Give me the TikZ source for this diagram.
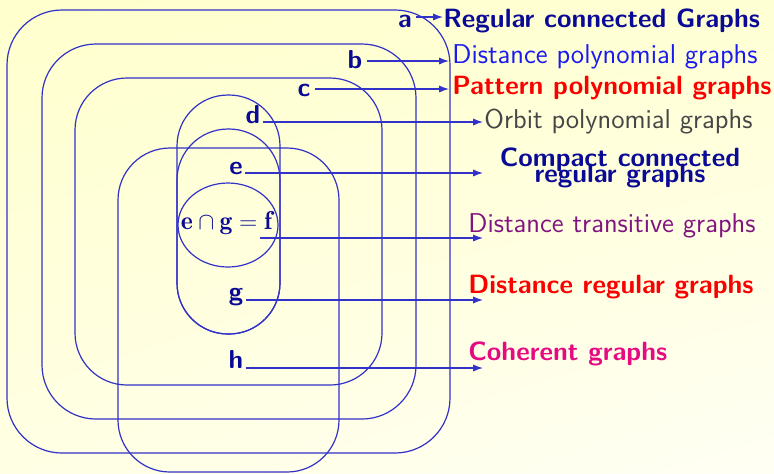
\documentclass[tikz,border=0pt]{standalone}
\usepackage{fontspec}
\usetikzlibrary{arrows.meta,shadings}
\definecolor{linec}{RGB}{50,50,200}
\definecolor{navyc}{RGB}{10,10,150}
\definecolor{bluec}{RGB}{25,25,240}
\definecolor{redc}{RGB}{250,0,0}
\definecolor{grayc}{RGB}{70,70,70}
\definecolor{purplec}{RGB}{130,20,130}
\definecolor{magc}{RGB}{230,10,130}
\definecolor{bgul}{RGB}{255,255,205}
\definecolor{bgur}{RGB}{255,255,212}
\definecolor{bgll}{RGB}{255,255,228}
\definecolor{bglr}{RGB}{255,255,244}
\tikzset{
  setbox/.style={draw=linec, line width=0.6pt},
  lab/.style={font=\sffamily\bfseries\fontsize{13}{15}\selectfont, text=navyc, inner sep=0pt, anchor=base},
  txt/.style={font=\sffamily\fontsize{13.6}{15}\selectfont, inner sep=0pt, anchor=base west},
  btxt/.style={font=\sffamily\bfseries\fontsize{13.2}{15}\selectfont, inner sep=0pt, anchor=base west},
  arr/.style={draw=linec, line width=0.6pt, -{Latex[length=5pt,width=3.6pt]}}
}
\begin{document}
\begin{tikzpicture}[x=0.5pt,y=-0.5pt]
\useasboundingbox (0,0) rectangle (774,473);
\shade[upper left=bgul, upper right=bgur, lower left=bgll, lower right=bglr] (0,0) rectangle (774,473);

% nested sets
\draw[setbox, rounded corners=27.5pt] (7,10) rectangle (450,453);
\draw[setbox, rounded corners=27pt] (42,44) rectangle (416,419);
\draw[setbox, rounded corners=26pt] (75,78) rectangle (382,385);
\draw[setbox, rounded corners=26pt] (118,148) rectangle (339,472);
\draw[setbox, rounded corners=25.5pt] (177,95) rectangle (280,334);
\draw[setbox, rounded corners=25.5pt] (177,129) rectangle (280,334);
\draw[setbox] (228,225) ellipse [x radius=50, y radius=42];

% labels
\node[lab] (la) at (405,27) {a};
\node[lab] (lb) at (355,68) {b};
\node[lab] (lc) at (304,96) {c};
\node[lab] (ld) at (253,123) {d};
\node[lab] (le) at (236,174) {e};
\node[lab, font=\fontsize{12.9}{15}\selectfont] (lf) at (226.5,229) {$\mathbf{e}\cap\mathbf{g}=\mathbf{f}$};
\node[lab] (lg) at (236,300) {g};
\node[lab] (lh) at (236,368) {h};

% class names
\node[btxt, text=navyc] (ta) at (443,27) {Regular connected Graphs};
\node[txt, text=bluec] (tb) at (452,63) {Distance polynomial graphs};
\node[btxt, text=redc] (tc) at (452,94) {Pattern polynomial graphs};
\node[txt, text=grayc] (td) at (484,128) {Orbit polynomial graphs};
\node[font={\sffamily\bfseries\fontsize{13.2}{8}\selectfont\lineskiplimit=-20pt\lineskip=0pt}, text=navyc, inner sep=0pt, align=center, anchor=north] (te) at (620,147) {Compact connected\\regular graphs};
\node[txt, text=purplec] (tf) at (468,232) {Distance transitive graphs};
\node[btxt, text=redc] (tg) at (468,293) {Distance regular graphs};
\node[btxt, text=magc] (th) at (468,360) {Coherent graphs};

% arrow tips
\coordinate (pa) at (443,17);
\coordinate (pb) at (449,61);
\coordinate (pc) at (449,89);
\coordinate (pd) at (483,122);
\coordinate (pe) at (483,173);
\coordinate (pf) at (483,238);
\coordinate (pg) at (483,300);
\coordinate (ph) at (483,368);

\draw[arr] ([xshift=2pt]la.base east |- pa) -- (pa);
\draw[arr] ([xshift=2pt]lb.base east |- pb) -- (pb);
\draw[arr] ([xshift=2pt]lc.base east |- pc) -- (pc);
\draw[arr] ([xshift=1pt]ld.base east |- pd) -- (pd);
\draw[arr] ([xshift=1pt]le.base east |- pe) -- (pe);
\draw[arr] ([xshift=-6pt]lf.base east |- pf) -- (pf);
\draw[arr] ([xshift=1pt]lg.base east |- pg) -- (pg);
\draw[arr] ([xshift=1pt]lh.base east |- ph) -- (ph);
\end{tikzpicture}
\end{document}
